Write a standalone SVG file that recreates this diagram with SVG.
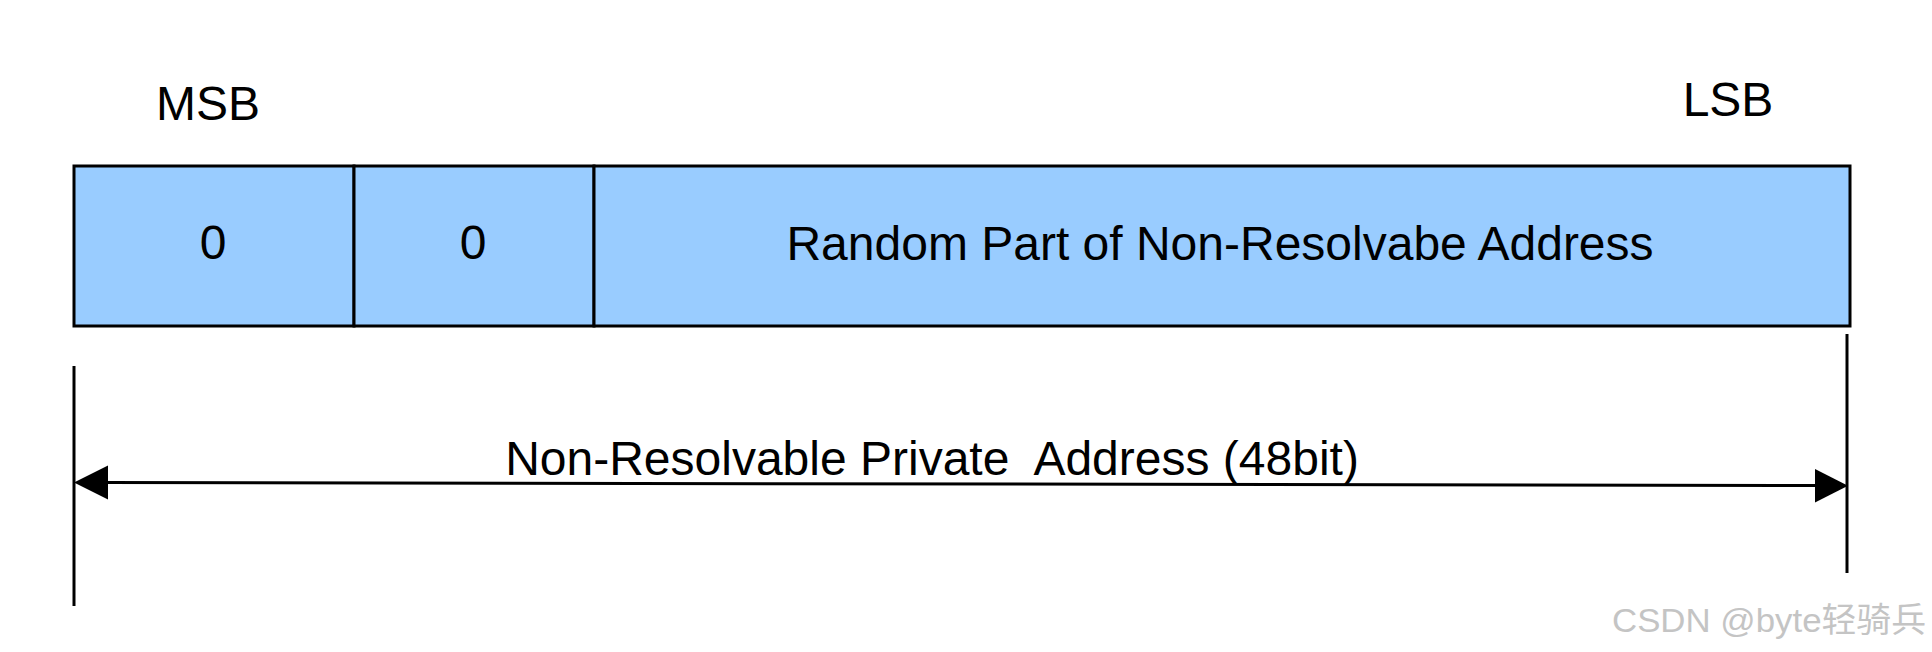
<svg xmlns="http://www.w3.org/2000/svg" width="1932" height="652" viewBox="0 0 1932 652">
<style>
.lbl{font-family:"Liberation Sans",Arial,sans-serif;font-size:48px;fill:#000;text-anchor:middle;white-space:pre}
.cell{fill:#99ccff;stroke:#000;stroke-width:3}
.ln{stroke:#000;stroke-width:3;fill:none}
.wm{font-family:"Liberation Sans","Noto Sans CJK SC",sans-serif;font-size:34px;fill:#c4c4c4;text-anchor:end}
</style>
<rect width="1932" height="652" fill="#fff"/>
<g id="msb"><text class="lbl" x="208" y="120">MSB</text></g>
<g id="lsb"><text class="lbl" x="1728" y="116">LSB</text></g>
<g id="field1"><rect class="cell" x="74" y="166" width="280" height="160"/><text class="lbl" x="213" y="259">0</text></g>
<g id="field2"><rect class="cell" x="354" y="166" width="240" height="160"/><text class="lbl" x="473" y="259">0</text></g>
<g id="field3"><rect class="cell" x="594" y="166" width="1256" height="160"/><text class="lbl" x="1220" y="260">Random Part of Non-Resolvabe Address</text></g>
<g id="connectors">
<line class="ln" x1="74" y1="366" x2="74" y2="606"/>
<line class="ln" x1="1847" y1="334" x2="1847" y2="573"/>
<line class="ln" x1="106" y1="482.5" x2="1816" y2="485.5"/>
<path d="M74,482.5 L108,465.5 L108,499.5 z" fill="#000"/>
<path d="M1848,485.7 L1815,469 L1815,502.5 z" fill="#000"/>
</g>
<g id="span-label"><text class="lbl" x="932" y="475">Non-Resolvable Private  Address (48bit)</text></g>
<g id="watermark"><text class="wm" x="1926" y="632" textLength="314" lengthAdjust="spacingAndGlyphs">CSDN @byte轻骑兵</text></g>
</svg>
